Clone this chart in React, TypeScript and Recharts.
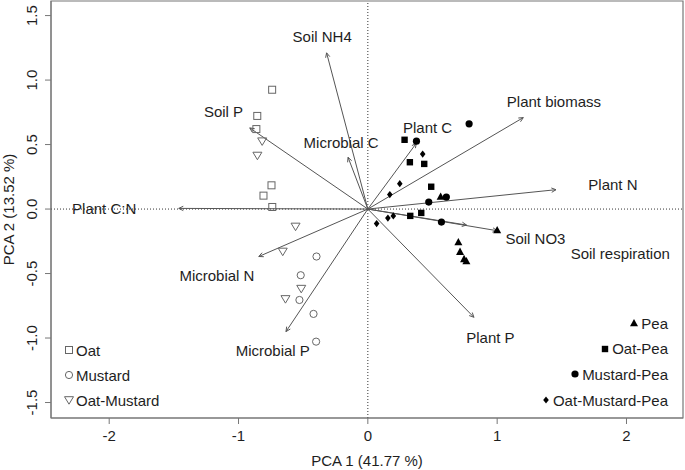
import React from "react";
import {
  ScatterChart,
  Scatter,
  XAxis,
  YAxis,
  ReferenceLine,
  ReferenceArea,
} from "recharts";

type Pt = { x: number; y: number };

// sample scores (PCA 1, PCA 2)
const oat: Pt[] = [
  { x: -0.74, y: 0.925 },
  { x: -0.855, y: 0.722 },
  { x: -0.862, y: 0.62 },
  { x: -0.745, y: 0.184 },
  { x: -0.807, y: 0.104 },
  { x: -0.739, y: 0.016 },
];
const mustard: Pt[] = [
  { x: -0.397, y: -0.368 },
  { x: -0.519, y: -0.513 },
  { x: -0.529, y: -0.705 },
  { x: -0.42, y: -0.813 },
  { x: -0.4, y: -1.028 },
];
const oatMustard: Pt[] = [
  { x: -0.817, y: 0.526 },
  { x: -0.854, y: 0.415 },
  { x: -0.559, y: -0.135 },
  { x: -0.658, y: -0.329 },
  { x: -0.515, y: -0.617 },
  { x: -0.637, y: -0.697 },
];
const pea: Pt[] = [
  { x: 0.563, y: 0.097 },
  { x: 1.0, y: -0.163 },
  { x: 0.7, y: -0.256 },
  { x: 0.713, y: -0.33 },
  { x: 0.744, y: -0.386 },
  { x: 0.762, y: -0.402 },
];
const oatPea: Pt[] = [
  { x: 0.284, y: 0.537 },
  { x: 0.325, y: 0.363 },
  { x: 0.436, y: 0.35 },
  { x: 0.49, y: 0.173 },
  { x: 0.328, y: -0.053 },
  { x: 0.413, y: -0.03 },
];
const mustardPea: Pt[] = [
  { x: 0.783, y: 0.661 },
  { x: 0.376, y: 0.526 },
  { x: 0.607, y: 0.093 },
  { x: 0.471, y: 0.054 },
  { x: 0.569, y: -0.101 },
];
const oatMustardPea: Pt[] = [
  { x: 0.424, y: 0.426 },
  { x: 0.247, y: 0.197 },
  { x: 0.17, y: 0.112 },
  { x: 0.197, y: -0.053 },
  { x: 0.155, y: -0.07 },
  { x: 0.068, y: -0.113 },
];

// variable loadings (arrow tips)
const loadings = [
  { name: "Soil NH4", x: -0.319, y: 1.211 },
  { name: "Soil P", x: -0.913, y: 0.629 },
  { name: "Microbial C", x: -0.153, y: 0.401 },
  { name: "Plant C", x: 0.375, y: 0.51 },
  { name: "Plant biomass", x: 1.202, y: 0.709 },
  { name: "Plant N", x: 1.455, y: 0.15 },
  { name: "Plant C:N", x: -1.462, y: 0.005 },
  { name: "Soil NO3", x: 0.763, y: -0.124 },
  { name: "Soil respiration", x: 1.0, y: -0.168 },
  { name: "Microbial N", x: -0.843, y: -0.368 },
  { name: "Microbial P", x: -0.633, y: -0.95 },
  { name: "Plant P", x: 0.82, y: -0.839 },
];

// where the variable names sit
const varLabels = [
  { name: "Soil NH4", x: -0.353, y: 1.335 },
  { name: "Soil P", x: -1.116, y: 0.755 },
  { name: "Microbial C", x: -0.207, y: 0.517 },
  { name: "Plant C", x: 0.462, y: 0.629 },
  { name: "Plant biomass", x: 1.439, y: 0.833 },
  { name: "Plant N", x: 1.895, y: 0.194 },
  { name: "Plant C:N", x: -2.039, y: 0.002 },
  { name: "Soil NO3", x: 1.296, y: -0.225 },
  { name: "Soil respiration", x: 1.952, y: -0.342 },
  { name: "Microbial N", x: -1.167, y: -0.518 },
  { name: "Microbial P", x: -0.735, y: -1.1 },
  { name: "Plant P", x: 0.948, y: -0.994 },
];

const xTicks = [-2, -1, 0, 1, 2];
const yTicks = [-1.5, -1, -0.5, 0, 0.5, 1, 1.5];

const X_DOMAIN: [number, number] = [-2.45, 2.437];
const Y_DOMAIN: [number, number] = [-1.62, 1.613];

const FONT = "Arial, 'Liberation Sans', sans-serif";
const TEXT = "#1e1e1e";
const BOX = "#777";
const OPEN = "#666";

type Kind = "oSquare" | "oCircle" | "oTriDown" | "triUp" | "square" | "circle" | "diamond";

const symbol = (kind: Kind, cx: number, cy: number) => {
  switch (kind) {
    case "oSquare":
      return <rect x={cx - 3.5} y={cy - 3.5} width={7} height={7} fill="none" stroke={OPEN} strokeWidth={1} />;
    case "oCircle":
      return <circle cx={cx} cy={cy} r={3.6} fill="none" stroke={OPEN} strokeWidth={1} />;
    case "oTriDown":
      return (
        <polygon
          points={`${cx - 4.5},${cy - 3.3} ${cx + 4.5},${cy - 3.3} ${cx},${cy + 4.2}`}
          fill="none"
          stroke={OPEN}
          strokeWidth={1}
        />
      );
    case "triUp":
      return <polygon points={`${cx - 4},${cy + 3.3} ${cx + 4},${cy + 3.3} ${cx},${cy - 4}`} fill="#000" />;
    case "square":
      return <rect x={cx - 3.2} y={cy - 3.2} width={6.4} height={6.4} fill="#000" />;
    case "circle":
      return <circle cx={cx} cy={cy} r={3.6} fill="#000" />;
    case "diamond":
      return <polygon points={`${cx},${cy - 3.6} ${cx + 2.8},${cy} ${cx},${cy + 3.6} ${cx - 2.8},${cy}`} fill="#000" />;
  }
};

const groups: { name: string; data: Pt[]; kind: Kind }[] = [
  { name: "Oat", data: oat, kind: "oSquare" },
  { name: "Mustard", data: mustard, kind: "oCircle" },
  { name: "Oat-Mustard", data: oatMustard, kind: "oTriDown" },
  { name: "Pea", data: pea, kind: "triUp" },
  { name: "Oat-Pea", data: oatPea, kind: "square" },
  { name: "Mustard-Pea", data: mustardPea, kind: "circle" },
  { name: "Oat-Mustard-Pea", data: oatMustardPea, kind: "diamond" },
];

const Arrow = (p: any) => {
  const { x1, y1, x2, y2 } = p;
  const a = Math.atan2(y2 - y1, x2 - x1);
  const len = 5;
  const spread = 0.45;
  const hx1 = x2 - len * Math.cos(a - spread);
  const hy1 = y2 - len * Math.sin(a - spread);
  const hx2 = x2 - len * Math.cos(a + spread);
  const hy2 = y2 - len * Math.sin(a + spread);
  return (
    <g stroke="#555" strokeWidth={1} fill="none">
      <line x1={x1} y1={y1} x2={x2} y2={y2} />
      <polyline points={`${hx1},${hy1} ${x2},${y2} ${hx2},${hy2}`} />
    </g>
  );
};

const XTick = (p: any) => (
  <text x={p.x} y={441} textAnchor="middle" fontSize={15} fill={TEXT} fontFamily={FONT}>
    {p.payload.value}
  </text>
);

const YTick = (p: any) => {
  const v: number = p.payload.value;
  const x = 37;
  return (
    <text
      x={x}
      y={p.y}
      transform={`rotate(-90, ${x}, ${p.y})`}
      textAnchor="middle"
      fontSize={15}
      fill={TEXT}
      fontFamily={FONT}
    >
      {v.toFixed(1)}
    </text>
  );
};

const VarLabel = (p: any) => (
  <text
    x={p.cx}
    y={p.cy}
    textAnchor="middle"
    dominantBaseline="central"
    fontSize={15}
    fill={TEXT}
    fontFamily={FONT}
  >
    {p.payload.name}
  </text>
);

const LegendItem = ({ name, kind }: { name: string; kind: Kind }) => (
  <div style={{ display: "flex", alignItems: "center", height: 20 }}>
    <svg width={10} height={10} style={{ marginRight: 2, overflow: "visible" }}>
      {symbol(kind, 5, 5)}
    </svg>
    <span>{name}</span>
  </div>
);

const leftLegend = groups.slice(0, 3);
const rightLegend = groups.slice(3);

export default function App() {
  return (
    <div
      style={{
        position: "absolute",
        left: 0,
        top: 0,
        width: 685,
        height: 470,
        background: "#fff",
        fontFamily: FONT,
        fontSize: 15,
        color: TEXT,
      }}
    >
      <ScatterChart width={685} height={470} margin={{ top: 1, right: 2, bottom: 0, left: 0 }}>
        <XAxis
          type="number"
          dataKey="x"
          domain={X_DOMAIN}
          allowDataOverflow
          ticks={xTicks}
          height={52}
          tick={<XTick />}
          tickSize={6}
          tickLine={{ stroke: BOX }}
          axisLine={{ stroke: BOX }}
          label={{
            value: "PCA 1 (41.77 %)",
            position: "insideBottom",
            offset: 4,
            fill: TEXT,
            fontSize: 15,
            fontFamily: FONT,
          }}
        />
        <YAxis
          type="number"
          dataKey="y"
          domain={Y_DOMAIN}
          allowDataOverflow
          ticks={yTicks}
          width={51}
          tick={<YTick />}
          tickSize={6}
          tickLine={{ stroke: BOX }}
          axisLine={{ stroke: BOX }}
          label={{
            value: "PCA 2 (13.52 %)",
            angle: -90,
            position: "insideLeft",
            offset: 8.5,
            fill: TEXT,
            fontSize: 15,
            fontFamily: FONT,
            style: { textAnchor: "middle" },
          }}
        />
        <ReferenceArea
          x1={X_DOMAIN[0]}
          x2={X_DOMAIN[1]}
          y1={Y_DOMAIN[0]}
          y2={Y_DOMAIN[1]}
          fill="none"
          stroke={BOX}
          strokeWidth={1.2}
          ifOverflow="visible"
        />
        <ReferenceLine x={0} stroke="#333" strokeDasharray="1 2" />
        <ReferenceLine y={0} stroke="#333" strokeDasharray="1 2" />
        {loadings.map((l) => (
          <ReferenceLine
            key={l.name}
            segment={[
              { x: 0, y: 0 },
              { x: l.x, y: l.y },
            ]}
            shape={(p: any) => <Arrow {...p} />}
          />
        ))}
        {groups.map((g) => (
          <Scatter
            key={g.name}
            name={g.name}
            data={g.data}
            isAnimationActive={false}
            shape={(p: any) => symbol(g.kind, p.cx, p.cy)}
          />
        ))}
        <Scatter data={varLabels} isAnimationActive={false} shape={VarLabel} />
      </ScatterChart>
      <div style={{ position: "absolute", left: 0, top: 0, pointerEvents: "none" }}>
        {leftLegend.map((g, i) => (
          <div key={g.name} style={{ position: "absolute", left: 64, top: 340 + i * 25, whiteSpace: "nowrap" }}>
            <LegendItem name={g.name} kind={g.kind} />
          </div>
        ))}
      </div>
      {rightLegend.map((g, i) => (
        <div
          key={g.name}
          style={{ position: "absolute", right: 17, top: 313 + i * 25.7, whiteSpace: "nowrap", pointerEvents: "none" }}
        >
          <LegendItem name={g.name} kind={g.kind} />
        </div>
      ))}
    </div>
  );
}
